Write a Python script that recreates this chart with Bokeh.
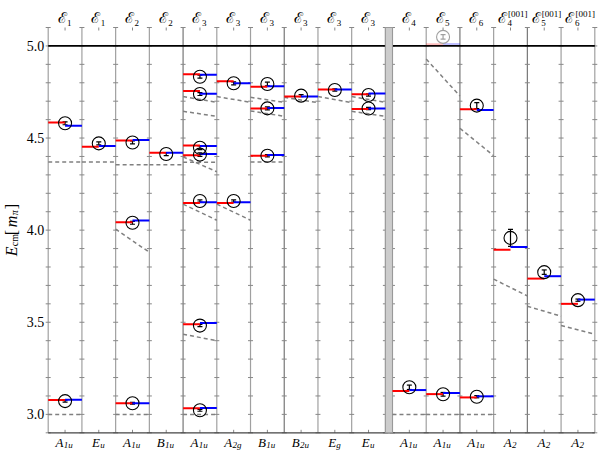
import numpy as np
from bokeh.plotting import figure
from bokeh.models import ColumnDataSource, Whisker, TeeHead, Range1d
from bokeh.core.properties import value
from bokeh.embed import file_html
from bokeh.resources import INLINE

# ---- column labels ----
top_main = ["ℰ"] * 16
top_sub = ["1", "1", "2", "2", "3", "3", "3", "3", "3", "3", "4", "5", "6", "4", "5", "6"]
top_sup = [""] * 13 + ["[001]"] * 3
irrep_main = ["A", "E", "A", "B", "A", "A", "B", "B", "E", "E", "A", "A", "A", "A", "A", "A"]
irrep_sub = ["1u", "u", "1u", "1u", "1u", "2g", "1u", "2u", "g", "u", "1u", "1u", "1u", "2", "2", "2"]
y_ticks = [3.0, 3.5, 4.0, 4.5, 5.0]
y_tick_labels = ["3.0", "3.5", "4.0", "4.5", "5.0"]

# ---- energy levels (red = left half, blue = right half) ----
level_col = [0, 0, 1, 2, 2, 2, 3, 4, 4, 4, 4, 4, 4, 4, 5, 5, 6, 6, 6, 7, 8, 9, 9,
             10, 11, 11, 12, 12, 13, 14, 15]
level_red = [4.585, 3.078, 4.453, 4.486, 4.043, 3.060, 4.420,
             4.846, 4.755, 4.460, 4.406, 4.148, 3.489, 3.033,
             4.808, 4.148, 4.779, 4.661, 4.404, 4.725, 4.764, 4.737, 4.658,
             3.127, 3.110, 5.009, 4.656, 3.092, 3.893, 3.737, 3.600]
level_blue = [4.567, 3.080, 4.457, 4.489, 4.052, 3.060, 4.420,
              4.844, 4.741, 4.457, 4.413, 4.152, 3.496, 3.035,
              4.797, 4.152, 4.781, 4.663, 4.408, 4.725, 4.764, 4.742, 4.660,
              3.132, 3.116, 5.010, 4.652, 3.098, 3.908, 3.750, 3.623]
level_faint = [False] * 25 + [True] + [False] * 5

# ---- lattice data points ----
pt_col = [0, 0, 1, 2, 2, 2, 3, 4, 4, 4, 4, 4, 4, 4, 5, 5, 6, 6, 6, 7, 8, 9, 9,
          10, 11, 11, 12, 12, 13, 14, 15]
pt_y = [4.580, 3.072, 4.471, 4.476, 4.040, 3.060, 4.413,
        4.833, 4.739, 4.447, 4.410, 4.158, 3.482, 3.022,
        4.797, 4.158, 4.793, 4.661, 4.404, 4.730, 4.761, 4.734, 4.660,
        3.147, 3.109, 5.049, 4.676, 3.096, 3.958, 3.772, 3.620]
pt_err = [0.008, 0.005, 0.008, 0.008, 0.008, 0.005, 0.008,
          0.008, 0.008, 0.010, 0.010, 0.006, 0.006, 0.005,
          0.008, 0.006, 0.010, 0.008, 0.006, 0.006, 0.006, 0.006, 0.006,
          0.012, 0.010, 0.012, 0.016, 0.006, 0.046, 0.012, 0.006]
pt_faint = [False] * 25 + [True] + [False] * 5

# ---- non-interacting levels (dashed), value at left and right column edge ----
ni_col = [0, 0, 1, 2, 2, 2, 3, 4, 4, 4, 4, 4, 4, 4, 5, 5, 6, 6, 6, 7, 8, 9, 9,
          10, 11, 11, 12, 12, 13, 14, 15]
ni_left = [4.370, 3.0, 4.370, 4.355, 4.005, 3.0, 4.355,
           4.725, 4.645, 4.398, 4.368, 4.141, 3.435, 3.0,
           4.725, 4.141, 4.721, 4.647, 4.370, 4.721, 4.725, 4.725, 4.645,
           3.0, 4.929, 3.0, 4.553, 3.0, 3.734, 3.587, 3.482]
ni_right = [4.370, 3.0, 4.370, 4.355, 3.880, 3.0, 4.355,
            4.694, 4.618, 4.317, 4.368, 4.054, 3.400, 3.0,
            4.694, 4.054, 4.694, 4.618, 4.370, 4.692, 4.692, 4.694, 4.618,
            3.0, 4.728, 3.0, 4.404, 3.0, 3.643, 3.533, 3.435]

threshold = 5.0
NCOL = 16
GAP = 0.21
YMIN, YMAX = 2.90, 5.10

# ---- layout (pixels) ----
W, H = 598, 450
FL, FR, FT, FB = 47.7, 594.3, 27.0, 432.3


def xleft(c):
    return c + (GAP if c >= 10 else 0.0)


XMAX = xleft(NCOL - 1) + 1
SX = (FR - FL) / XMAX
SY = (FB - FT) / (YMAX - YMIN)


def px(d):
    return d / SX


def py(d):
    return d / SY


centers = [xleft(c) + 0.5 for c in range(NCOL)]
bounds = [xleft(c) for c in range(NCOL)] + [10.0, XMAX]

p = figure(width=W, height=H,
           x_range=Range1d(-FL / SX, XMAX + (W - FR) / SX),
           y_range=Range1d(YMIN - (H - FB) / SY, YMAX + FT / SY),
           x_axis_type=None, y_axis_type=None,
           output_backend="svg", toolbar_location=None, min_border=0,
           min_border_left=0, min_border_right=0, min_border_top=0, min_border_bottom=0)
p.outline_line_color = None
p.xgrid.visible = False
p.ygrid.visible = False
p.background_fill_color = "white"
p.border_fill_color = "white"

serif = "Liberation Serif"

# column separators
dark = {4, 7, 12, 14}
p.segment(bounds, [YMIN] * len(bounds), bounds, [YMAX] * len(bounds),
          line_color=["#777777" if i in dark else "#a0a0a0" for i in range(len(bounds))], line_width=1.2)

# small tick crosses on each separator
yy = np.round(np.arange(YMIN, YMAX + 0.001, 0.1), 2)
bx, by = [], []
for b in bounds:
    for v in yy:
        bx.append(b)
        by.append(v)
p.scatter(bx, by, marker="dash", size=5, line_color="#888888", line_width=1)

# small ticks at column centres, top and bottom (pointing inwards)
p.segment(centers, [YMAX] * NCOL, centers, [YMAX - py(3)] * NCOL, line_color="#888888", line_width=1)
p.segment(centers, [YMIN] * NCOL, centers, [YMIN + py(3)] * NCOL, line_color="#888888", line_width=1)

# bottom frame line
p.segment([0], [YMIN], [XMAX], [YMIN], line_color="#444444", line_width=1.2)

# threshold line
p.segment([0], [threshold], [XMAX], [threshold], line_color="black", line_width=1.8)

# gap band
p.quad(left=[10.0], right=[xleft(10)], bottom=[YMIN], top=[YMAX],
       fill_color="#cccccc", line_color="#999999", line_width=1)

# non-interacting dashed lines
ni_src = ColumnDataSource(dict(x0=[xleft(c) for c in ni_col], x1=[xleft(c) + 1 for c in ni_col],
                               y0=ni_left, y1=ni_right))
p.segment("x0", "y0", "x1", "y1", source=ni_src, line_color="#808080", line_width=1.5, line_dash="4 3")

# energy levels
alpha = [0.25 if f else 1.0 for f in level_faint]
red_src = ColumnDataSource(dict(x0=[xleft(c) for c in level_col], x1=[xleft(c) + 0.5 for c in level_col],
                                y=level_red, a=alpha))
blue_src = ColumnDataSource(dict(x0=[xleft(c) + 0.5 for c in level_col], x1=[xleft(c) + 1 for c in level_col],
                                 y=level_blue, a=alpha))
p.segment("x0", "y", "x1", "y", source=red_src, line_color="#ff0000", line_width=2.0, line_alpha="a")
p.segment("x0", "y", "x1", "y", source=blue_src, line_color="#0000ff", line_width=2.0, line_alpha="a")

# data points
for faint in (False, True):
    idx = [i for i in range(len(pt_col)) if pt_faint[i] == faint]
    src = ColumnDataSource(dict(x=[xleft(pt_col[i]) + 0.5 for i in idx], y=[pt_y[i] for i in idx],
                                lo=[pt_y[i] - pt_err[i] for i in idx], hi=[pt_y[i] + pt_err[i] for i in idx]))
    col = "#a0a0a0" if faint else "black"
    p.scatter("x", "y", source=src, marker="circle", size=13, fill_color=None, line_color=col, line_width=1.1)
    p.add_layout(Whisker(base="x", lower="lo", upper="hi", source=src, dimension="height",
                         line_color=col, line_width=1.2,
                         lower_head=TeeHead(size=5, line_color=col, line_width=1.2),
                         upper_head=TeeHead(size=5, line_color=col, line_width=1.2)))

# y tick labels
p.text(x=[-px(4)] * len(y_ticks), y=y_ticks, text=y_tick_labels, text_align="right", text_baseline="middle",
       text_font=value(serif), text_font_size=value("14px"), text_color="black")

# top labels
shift_top = [-3.5 if s else 1.5 for s in top_sup]
p.text(x=[centers[c] + px(shift_top[c]) for c in range(NCOL)], y=[YMAX + py(10)] * NCOL, text=top_main,
       text_align="right", text_baseline="middle", text_font=value("DejaVu Serif"),
       text_font_size=value("15px"), text_color="black")
p.text(x=[centers[c] + px(shift_top[c] + 0.5) for c in range(NCOL)], y=[YMAX + py(4.5)] * NCOL, text=top_sub,
       text_align="left", text_baseline="middle", text_font=value(serif),
       text_font_size=value("9px"), text_color="black")
sup_idx = [c for c in range(NCOL) if top_sup[c]]
p.text(x=[centers[c] + px(shift_top[c] + 1) for c in sup_idx], y=[YMAX + py(14)] * len(sup_idx),
       text=[top_sup[c] for c in sup_idx], text_align="left", text_baseline="middle",
       text_font=value(serif), text_font_size=value("9px"), text_color="black")

# bottom labels
shift_bot = [(8 - 5.5 * len(s)) / 2 for s in irrep_sub]
p.text(x=[centers[c] + px(shift_bot[c]) for c in range(NCOL)], y=[YMIN - py(9.5)] * NCOL, text=irrep_main,
       text_align="right", text_baseline="middle", text_font=value(serif), text_font_style="italic",
       text_font_size=value("13px"), text_color="black")
p.text(x=[centers[c] + px(shift_bot[c] + 0.3) for c in range(NCOL)], y=[YMIN - py(12.0)] * NCOL,
       text=irrep_sub, text_align="left", text_baseline="middle", text_font=value(serif),
       text_font_style="italic", text_font_size=value("9px"), text_color="black")

# y axis title, built from pieces: E_cm [m_pi]
pieces = [("E", "16px", "italic", 0, 10), ("cm", "10px", "normal", 3, 11), (" [", "16px", "normal", 0, 8),
          ("m", "16px", "italic", 0, 12), ("π", "10px", "italic", 3, 6), ("]", "16px", "normal", 0, 5)]
total = sum(w for *_, w in pieces)
pos = -total / 2
ymid = (YMIN + YMAX) / 2
for txt, fs, st, dx, w in pieces:
    p.text(x=[px(11 - FL + dx)], y=[ymid + py(pos)], text=[txt], angle=np.pi / 2,
           text_align="left", text_baseline="alphabetic", text_font=value(serif), text_font_style=st,
           text_font_size=value(fs), text_color="black")
    pos += w

open("out.html", "w").write(file_html(p, INLINE))
